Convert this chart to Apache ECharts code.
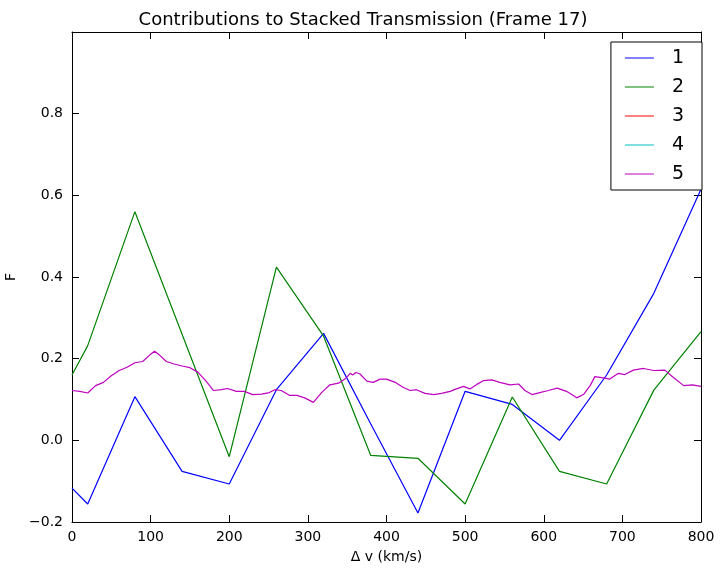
<!DOCTYPE html>
<html>
<head>
<meta charset="utf-8">
<script src="https://cdn.jsdelivr.net/npm/echarts@6/dist/echarts.min.js"></script>
<style>
  html, body { margin: 0; padding: 0; background: #fff; }
  #chart { width: 726px; height: 574px; }
</style>
</head>
<body>
<div id="chart"></div>
<script>
// series names
const names = ['1', '2', '3', '4', '5'];
const colors = ['#0000ff', '#008000', '#ff0000', '#00bfbf', '#bf00bf'];

// 1 (blue)
const x1 = [0, 20, 80, 140, 200, 260, 320, 380, 440, 500, 560, 620, 680, 740, 800];
const y1 = [-0.117, -0.156, 0.107, -0.076, -0.107, 0.124, 0.262, 0.04, -0.178, 0.12, 0.088, 0.0, 0.16, 0.36, 0.615];

// 2 (green)
const x2 = [0, 20, 80, 140, 200, 260, 320, 380, 440, 500, 560, 620, 680, 740, 800];
const y2 = [0.16, 0.232, 0.56, 0.26, -0.04, 0.424, 0.255, -0.037, -0.044, -0.156, 0.106, -0.076, -0.107, 0.123, 0.266];

// 3, 4 : nothing visible in the frame
const x3 = [0, 800], y3 = [null, null];
const x4 = [0, 800], y4 = [null, null];

// 5 (magenta)
const x5 = [0, 10, 20, 30, 40, 50, 60, 70, 80, 90, 100, 105, 110, 120, 130, 140, 150, 160, 170, 180,
            190, 198, 209, 219, 230, 241, 251, 258, 266, 277, 286, 296, 307, 318, 328, 339, 347, 354,
            357, 361, 366, 375, 383, 392, 400, 411, 421, 430, 438, 449, 460, 470, 481, 489, 498, 506,
            515, 523, 534, 544, 557, 568, 576, 585, 595, 606, 617, 629, 642, 651, 659, 665, 676, 684,
            695, 703, 714, 727, 740, 754, 765, 778, 789, 800];
const y5 = [0.122, 0.12, 0.116, 0.134, 0.142, 0.158, 0.171, 0.179, 0.19, 0.193, 0.211, 0.218, 0.211, 0.193, 0.187, 0.182, 0.178, 0.167, 0.146, 0.122,
            0.124, 0.127, 0.12, 0.12, 0.112, 0.113, 0.117, 0.124, 0.122, 0.11, 0.11, 0.104, 0.093, 0.118, 0.136, 0.14, 0.15, 0.164,
            0.16, 0.166, 0.163, 0.145, 0.142, 0.15, 0.15, 0.142, 0.13, 0.122, 0.124, 0.115, 0.112, 0.115, 0.12, 0.126, 0.132, 0.126,
            0.137, 0.146, 0.148, 0.142, 0.136, 0.138, 0.122, 0.112, 0.117, 0.122, 0.128, 0.12, 0.104, 0.113, 0.134, 0.156, 0.153, 0.15,
            0.164, 0.161, 0.172, 0.176, 0.171, 0.172, 0.154, 0.134, 0.136, 0.132];

const xs = [x1, x2, x3, x4, x5];
const ys = [y1, y2, y3, y4, y5];

const font = 'DejaVu Sans';

function fmtY(v) {
    return v.toFixed(1).replace('-', '\u2212');
}

// fresh objects for every axis
function tick() {
    return { show: true, inside: true, length: 7, lineStyle: { color: '#000', width: 1 } };
}
function line() {
    return { show: true, onZero: false, lineStyle: { color: '#000', width: 1 } };
}

const chart = echarts.init(document.getElementById('chart'));

const option = {
    animation: false,
    backgroundColor: '#fff',
    title: {
        text: 'Contributions to Stacked Transmission (Frame 17)',
        left: 'center',
        top: 6,
        textStyle: { fontFamily: font, fontSize: 18, fontWeight: 'normal', color: '#000' }
    },
    legend: {
        data: names,
        orient: 'vertical',
        right: 24,
        top: 42,
        padding: [6, 18, 6, 14],
        itemGap: 9,
        itemWidth: 29,
        itemHeight: 20,
        icon: 'path://M0,9.5 L29,9.5 L29,10.5 L0,10.5 Z',
        borderColor: '#000',
        borderWidth: 1,
        borderRadius: 0,
        backgroundColor: '#fff',
        textStyle: { fontFamily: font, fontSize: 19, color: '#000', padding: [0, 0, 0, 13], lineHeight: 20, height: 20 }
    },
    grid: { left: 72, right: 25, top: 32, bottom: 52, containLabel: false, outerBoundsMode: 'none' },
    xAxis: [{
        type: 'value',
        min: 0, max: 800, interval: 100,
        name: '\u0394 v (km/s)',
        nameLocation: 'middle',
        nameGap: 28,
        nameTextStyle: { fontFamily: font, fontSize: 14, color: '#000' },
        axisLine: line(),
        axisTick: tick(),
        splitLine: { show: false },
        axisLabel: { fontFamily: font, fontSize: 14, color: '#000', margin: 8 }
    }, {
        type: 'value', position: 'top',
        min: 0, max: 800, interval: 100,
        axisLine: line(), axisTick: tick(),
        axisLabel: { show: false }, splitLine: { show: false }
    }],
    yAxis: [{
        type: 'value',
        min: -0.2, max: 1.0, interval: 0.2,
        name: 'F',
        nameLocation: 'middle',
        nameGap: 52,
        nameTextStyle: { fontFamily: font, fontSize: 14, color: '#000' },
        axisLine: line(),
        axisTick: tick(),
        splitLine: { show: false },
        axisLabel: {
            fontFamily: font, fontSize: 14, color: '#000', margin: 9,
            showMaxLabel: false,
            formatter: fmtY
        }
    }, {
        type: 'value', position: 'right',
        min: -0.2, max: 1.0, interval: 0.2,
        axisLine: line(), axisTick: tick(),
        axisLabel: { show: false }, splitLine: { show: false }
    }],
    series: names.map((n, i) => ({
        name: n,
        type: 'line',
        data: xs[i].map((x, j) => [x, ys[i][j]]),
        showSymbol: false,
        symbol: 'none',
        lineStyle: { color: colors[i], width: 1.2 },
        itemStyle: { color: colors[i] }
    }))
};

chart.setOption(option);
</script>
</body>
</html>
